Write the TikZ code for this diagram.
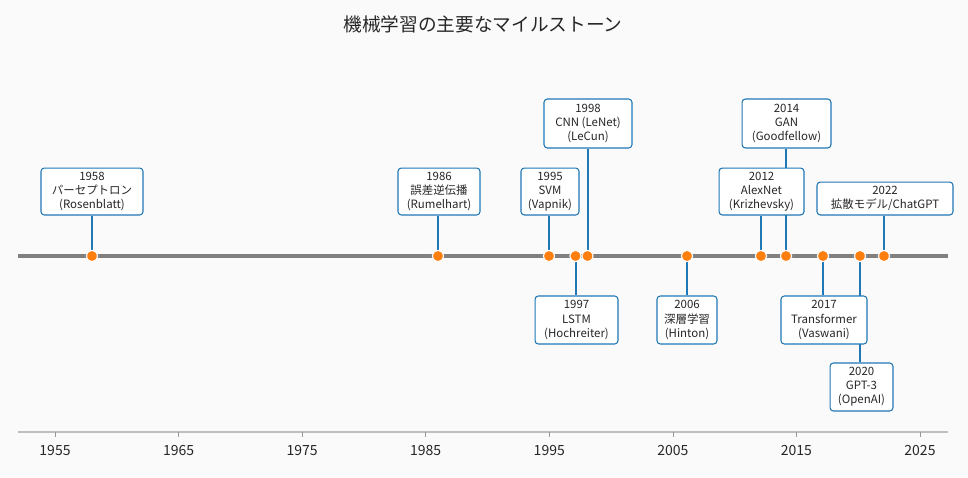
\documentclass[tikz,border=0pt]{standalone}
\usepackage{fontspec}
\setmainfont{Noto Sans CJK JP}
\definecolor{mblue}{HTML}{1F77B4}
\definecolor{morange}{HTML}{FF7F0E}
\definecolor{bg}{HTML}{FAFAFA}
\pgfdeclarelayer{back}
\pgfdeclarelayer{mid}
\pgfsetlayers{back,mid,main}
\begin{document}
\begin{tikzpicture}[x=0.75pt,y=-0.75pt,
  ev/.style={draw=mblue,line width=0.8pt,fill=white,rounded corners=2.5pt,align=center,inner sep=0pt,font=\fontsize{8.6}{10.6}\selectfont,text=black!85},
  stem/.style={draw=mblue,line width=1.5pt},
  dot/.style={circle,fill=morange,draw=white,line width=0.8pt,minimum size=8.5pt,inner sep=0pt},
  tick/.style={font=\fontsize{10.5}{12}\selectfont,text=black!85}]
\begin{pgfonlayer}{back}
\fill[bg] (0,0) rectangle (968,478);
\end{pgfonlayer}
\useasboundingbox (0,0) rectangle (968,478);
\node[font=\fontsize{14}{16}\selectfont,text=black!85] (title) at (483,24) {機械学習の主要なマイルストーン};
\draw[black!25,line width=0.8pt] (18,432) -- (948,432);
\foreach \y in {1955,1965,...,2025}{
  \pgfmathsetmacro\xx{55+(\y-1955)*12.357}
  \draw[black!40] (\xx,432) -- (\xx,437);
  \node[tick] (t\y) at (\xx,451) {\y};
}
\coordinate (L) at (18,256); \coordinate (R) at (948,256);
\begin{pgfonlayer}{mid}
\draw[gray,line width=2.3pt] (L) -- (R);
\end{pgfonlayer}
% boxes
\node[ev,minimum width=76.5pt,minimum height=35.2pt] (b58) at (92,191.5) {1958\\パーセプトロン\\(Rosenblatt)};
\node[ev,minimum width=61.5pt,minimum height=35.2pt] (b86) at (439,191.5) {1986\\誤差逆伝播\\(Rumelhart)};
\node[ev,minimum width=43.5pt,minimum height=35.2pt] (b95) at (550,191.5) {1995\\SVM\\(Vapnik)};
\node[ev,minimum width=66pt,minimum height=36.7pt] (b98) at (588,123.5) {1998\\CNN (LeNet)\\(LeCun)};
\node[ev,minimum width=63.7pt,minimum height=35.2pt] (b12) at (761.5,191.5) {2012\\AlexNet\\(Krizhevsky)};
\node[ev,minimum width=66.7pt,minimum height=36.7pt] (b14) at (786.5,123.5) {2014\\GAN\\(Goodfellow)};
\node[ev,minimum width=102pt,minimum height=24.7pt] (b22) at (885,198.5) {2022\\拡散モデル/ChatGPT};
\node[ev,minimum width=62.2pt,minimum height=36pt] (b97) at (576.5,320) {1997\\LSTM\\(Hochreiter)};
\node[ev,minimum width=45pt,minimum height=36pt] (b06) at (687,320) {2006\\深層学習\\(Hinton)};
\node[ev,minimum width=64.5pt,minimum height=36pt] (b17) at (824,320) {2017\\Transformer\\(Vaswani)};
\node[ev,minimum width=47.2pt,minimum height=36pt] (b20) at (861.5,387) {2020\\GPT-3\\(OpenAI)};
% dots and stems
\foreach \n/\x in {58/92,86/438,95/549,97/575.5,98/587.5,06/687,12/761,14/786,17/823,20/860,22/884}{
  \coordinate (p\n) at (\x,256);
}
\begin{pgfonlayer}{mid}
\foreach \n in {58,86,95,98,12,14,22}{ \draw[stem] (p\n) -- (p\n |- b\n.south); }
\foreach \n in {97,06,17,20}{ \draw[stem] (p\n) -- (p\n |- b\n.north); }
\end{pgfonlayer}
\foreach \n in {58,86,95,97,98,06,12,14,17,20,22}{ \node[dot] (d\n) at (p\n) {}; }
\end{tikzpicture}
\end{document}
